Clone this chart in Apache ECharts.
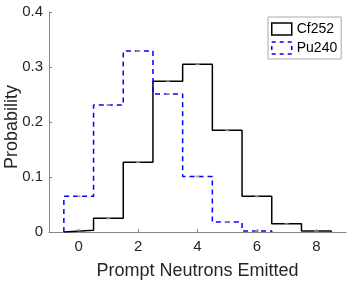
<!DOCTYPE html>
<html>
<head>
<meta charset="utf-8">
<script src="https://cdn.jsdelivr.net/npm/echarts@6/dist/echarts.min.js"></script>
<style>html,body{margin:0;padding:0;background:#fff;}#c{width:359px;height:285px;}</style>
</head>
<body>
<div id="c"></div>
<script>
// Bin centers (neutron counts) and probabilities
const cfCenters = [0, 1, 2, 3, 4, 5, 6, 7, 8];
const cfValues  = [0.003, 0.025, 0.127, 0.274, 0.305, 0.185, 0.065, 0.015, 0.002];
const puCenters = [0, 1, 2, 3, 4, 5, 6];
const puValues  = [0.065, 0.231, 0.329, 0.251, 0.101, 0.018, 0.002];
const xTicks = [0, 2, 4, 6, 8];
const yTicks = [0, 0.1, 0.2, 0.3, 0.4];
const seriesNames = ['Cf252', 'Pu240'];

function stairs(centers, values) {
  const pts = [];
  const half = 0.5;
  pts.push([centers[0] - half, 0]);
  for (let i = 0; i < centers.length; i++) {
    pts.push([centers[i] - half, values[i]]);
    pts.push([centers[i] + half, values[i]]);
  }
  pts.push([centers[centers.length - 1] + half, 0]);
  return pts;
}
function marks(centers, values) {
  return centers.map((c, i) => [c, values[i]]);
}

const font = "'Liberation Sans', Arial, Helvetica, sans-serif";
const chart = echarts.init(document.getElementById('c'), null, {renderer: 'canvas'});
chart.setOption({
  animation: false,
  backgroundColor: '#fff',
  grid: {left: 49, right: 13, top: 12, bottom: 53, containLabel: false, outerBoundsMode: 'none'},
  legend: {
    left: 268, top: 17, orient: 'vertical',
    backgroundColor: '#fff', borderColor: '#aaa', borderWidth: 1,
    padding: [5, 4, 4, 3], itemGap: 5, itemWidth: 20, itemHeight: 12,
    itemTextGap: 3, icon: 'rect',
    textStyle: {fontFamily: font, fontSize: 14, color: '#000', lineHeight: 13},
    data: [
      {name: seriesNames[0], itemStyle: {color: 'transparent', borderColor: '#000', borderWidth: 1.5}},
      {name: seriesNames[1], itemStyle: {color: 'transparent', borderColor: '#0000ff', borderWidth: 1.5, borderType: [4, 4]}}
    ]
  },
  xAxis: {
    type: 'value', min: -1, max: 9,
    name: 'Prompt Neutrons Emitted', nameLocation: 'middle', nameGap: 30,
    nameMoveOverlap: false,
    nameTextStyle: {fontFamily: font, fontSize: 18, color: '#262626'},
    axisLine: {show: true, onZero: false, lineStyle: {color: '#888', width: 1}},
    axisTick: {show: true, inside: true, length: 3, customValues: xTicks, lineStyle: {color: '#888'}},
    axisLabel: {customValues: xTicks, fontFamily: font, fontSize: 15, color: '#262626', margin: 7},
    splitLine: {show: false}
  },
  yAxis: {
    type: 'value', min: 0, max: 0.4, interval: 0.1,
    name: 'Probability', nameLocation: 'middle', nameGap: 28,
    nameMoveOverlap: false,
    nameTextStyle: {fontFamily: font, fontSize: 18, color: '#262626', padding: [0, 10, 0, 0]},
    axisLine: {show: true, onZero: false, lineStyle: {color: '#888', width: 1}},
    axisTick: {show: true, inside: true, length: 3, lineStyle: {color: '#888'}},
    axisLabel: {fontFamily: font, fontSize: 15, color: '#262626', margin: 6,
      formatter: v => yTicks.includes(Math.round(v * 10) / 10) ? String(Math.round(v * 10) / 10) : ''},
    splitLine: {show: false}
  },
  series: [
    {
      name: seriesNames[0], type: 'line', data: stairs(cfCenters, cfValues),
      symbol: 'none', lineStyle: {color: '#000', width: 1.5}, itemStyle: {color: '#000'}, z: 3
    },
    {
      name: seriesNames[1], type: 'line', data: stairs(puCenters, puValues),
      symbol: 'none', lineStyle: {color: '#0000ff', width: 1.5, type: [5, 4]}, itemStyle: {color: '#0000ff'}, z: 4
    },
    {
      name: 'cfErr', type: 'scatter', data: marks(cfCenters, cfValues), silent: true,
      symbol: 'rect', symbolSize: [4, 2], itemStyle: {color: '#999'}, z: 5
    },
    {
      name: 'puErr', type: 'scatter', data: marks(puCenters, puValues), silent: true,
      symbol: 'rect', symbolSize: [4, 2], itemStyle: {color: '#999'}, z: 5
    }
  ]
});
</script>
</body>
</html>
